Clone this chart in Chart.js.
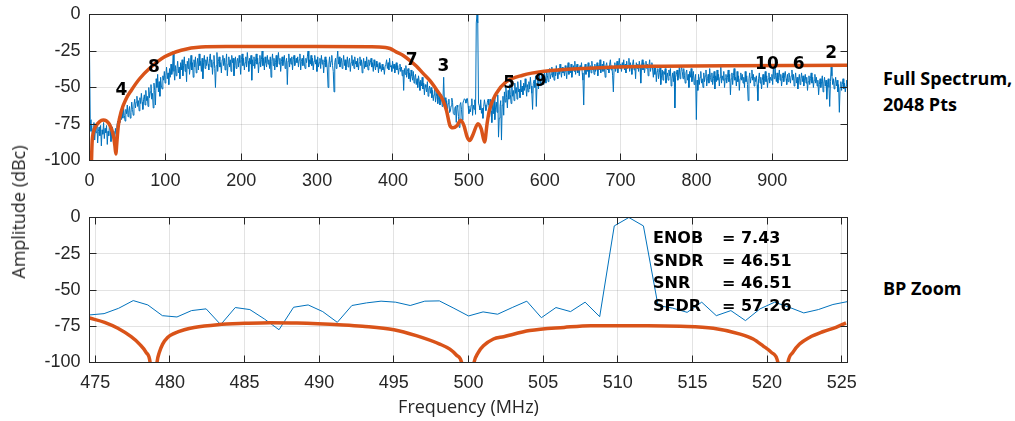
<!DOCTYPE html>
<html>
<head>
<meta charset="utf-8">
<script src="https://cdn.jsdelivr.net/npm/chart.js@4.4.1/dist/chart.umd.min.js"></script>
<style>
  html, body { margin: 0; padding: 0; background: #ffffff; }
  #page { position: relative; width: 1015px; height: 421px; overflow: hidden; font-family: 'Open Sans', sans-serif; }
  .plot { position: absolute; left: 0; width: 860px; }
  #fullPlot { top: 0; height: 200px; }
  #zoomPlot { top: 200px; height: 221px; }
  #yTitle { position: absolute; left: 18px; top: 212px; transform: translate(-50%, -50%) rotate(-90deg);
            font-size: 18px; color: #262626; white-space: nowrap; }
  .side { position: absolute; left: 883px; font-weight: 700; font-size: 18px; line-height: 26px; color: #000; white-space: nowrap; }
  #stats { position: absolute; left: 653px; top: 227px; font-family: 'DejaVu Sans', sans-serif; font-weight: bold;
           font-size: 16px; line-height: 22.5px; color: #000; white-space: nowrap; }
  #stats .name { display: inline-block; width: 69px; }
</style>
</head>
<body>
<div id="page">
  <div class="plot" id="fullPlot"><canvas id="fullCanvas" width="860" height="200"></canvas></div>
  <div class="plot" id="zoomPlot"><canvas id="zoomCanvas" width="860" height="221"></canvas></div>
  <div id="yTitle">Amplitude (dBc)</div>
  <div class="side" style="top:65px">Full Spectrum,<br>2048 Pts</div>
  <div class="side" style="top:275px">BP Zoom</div>
  <div id="stats"></div>
</div>
<script>
// FFT bin spacing: 2048-point record, 2 GS/s
const binMhz = 1000 / 1024;

// Output spectrum, one value per bin (dBc)
const spectrumDb = [
  -25,-72,-80,-76,-84,-78,-74,-86,-79,-81,-75,-88,-80,-77,-83,-76,-90,-79,-82,-74,
  -85,-78,-81,-76,-89,-80,-83,-75,-79,-87,-81,-77,-84,-80,-86,-78,-82,-76,-73,-79,
  -70,-74,-68,-72,-66,-71,-64,-69,-73,-65,-68,-62,-70,-66,-63,-71,-67,-60,-65,-69,
  -62,-58,-64,-60,-56,-63,-59,-66,-57,-61,-54,-60,-65,-58,-55,-62,-52,-59,-56,-63,
  -50,-57,-53,-48,-58,-54,-64,-47,-52,-62,-44,-50,-41,-53,-46,-56,-43,-49,-51,-42,
  -45,-39,-47,-42,-36,-44,-40,-48,-37,-43,-34,-41,-38,-25,-39,-45,-35,-42,-37,-32,
  -40,-36,-44,-33,-38,-31,-42,-35,-29,-39,-34,-46,-32,-37,-30,-41,-36,-28,-38,-33,
  -43,-31,-36,-29,-40,-34,-30,-38,-27,-35,-32,-39,-30,-44,-33,-28,-37,-31,-35,-29,
  -34,-38,-30,-27,-36,-31,-41,-33,-28,-37,-50,-35,-26,-39,-32,-29,-36,-33,-40,-31,
  -28,-35,-30,-38,-33,-27,-42,-34,-29,-36,-31,-39,-28,-33,-30,-42,-35,-29,-37,-32,
  -30,-36,-28,-33,-41,-31,-27,-35,-30,-38,-33,-29,-36,-26,-32,-39,-30,-34,-28,-45,
  -31,-35,-29,-37,-32,-27,-34,-30,-40,-33,-28,-36,-31,-25,-35,-30,-38,-29,-33,-36,
  -28,-34,-31,-37,-29,-43,-32,-27,-35,-30,-38,-33,-28,-36,-31,-26,-34,-30,-39,-32,
  -29,-35,-31,-28,-37,-33,-30,-48,-32,-27,-36,-30,-34,-29,-38,-31,-28,-35,-33,-30,
  -33,-29,-36,-31,-27,-38,-32,-30,-35,-28,-34,-37,-30,-33,-29,-25,-36,-31,-34,-28,
  -35,-30,-38,-32,-28,-34,-31,-39,-29,-36,-33,-30,-37,-28,-34,-31,-40,-33,-29,-36,
  -31,-38,-50,-34,-29,-36,-32,-28,-35,-39,-53,-33,-30,-37,-31,-25,-34,-29,-36,-32,
  -30,-37,-33,-28,-35,-31,-38,-34,-29,-36,-32,-30,-39,-33,-28,-35,-31,-37,-29,-34,
  -32,-36,-30,-38,-33,-29,-35,-31,-40,-34,-30,-37,-32,-36,-29,-34,-38,-31,-35,-33,
  -30,-36,-33,-39,-31,-35,-38,-32,-36,-34,-40,-33,-37,-35,-39,-34,-38,-36,-41,-35,
  -34,-31,-37,-33,-38,-30,-36,-35,-39,-32,-37,-34,-40,-36,-33,-38,-35,-41,-37,-34,
  -39,-36,-42,-38,-52,-37,-41,-35,-43,-39,-37,-44,-40,-46,-38,-42,-45,-39,-47,-43,
  -41,-48,-44,-50,-42,-46,-52,-45,-49,-43,-51,-47,-55,-48,-50,-53,-46,-56,-51,-49,
  -54,-50,-57,-52,-59,-55,-51,-60,-56,-53,-61,-57,-54,-62,-58,-55,-63,-59,-43,-60,
  -57,-64,-59,-66,-61,-58,
  -67.2,-66.3,-62.6,-57.3,-60.3,-67.7,-68.6,-64.2,-63.0,-73.9,
  -62.1,-63.5,-70.0,-77.4,-61.9,-60.3,-64.9,-72.3,-60.7,-58.9,
  -57.7,-58.4,-60.7,-57.7,-57.5,-62.6,-67.9,-65.1,-66.7,-62.1,
  -57.7,-69.1,-62.1,-64.9,-58.4,-68.4,-5.8,0,-5.8,-60.7,
  -62.5,-65.4,-58.4,-67.7,-64.2,-71.1,-63.0,-58.4,-61.9,-65.8,
  -63.5,-60.0,-58.0,
  -62,-70,-58,-66,-74,-61,-68,-57,-72,-64,-60,-67,-55,-84,-71,-63,-59,-86,-62,-56,-69,
  -53,-60,-50,-57,-64,-52,-58,-48,-55,-61,-49,-56,-52,-59,-47,-54,-50,-58,-46,-53,
  -51,-57,-45,-53,-49,-55,-47,-52,-44,-50,-56,-48,-53,-46,-51,-43,-49,-54,-65,-47,
  -45,-50,-42,-63,-48,-44,-51,-41,-46,-49,-40,-45,-43,-48,-39,-44,-47,-38,-42,-46,
  -40,-37,-44,-41,-36,-43,-39,-45,-38,-42,-35,-40,-44,-37,-41,-34,-39,-43,-36,-40,
  -38,-42,-35,-39,-44,-37,-33,-41,-36,-40,-34,-43,-38,-35,-39,-32,-41,-37,-34,-40,
  -36,-42,-35,-38,-33,-40,-45,-62,-37,-34,-41,-36,-39,-33,-43,-37,-35,-40,-32,-38,
  -36,-41,-34,-39,-37,-33,-42,-35,-38,-31,-40,-36,-34,-39,-32,-37,-43,-35,-33,-38,
  -36,-40,-34,-31,-38,-35,-42,-53,-37,-33,-39,-36,-32,-40,-35,-30,-37,-34,-39,-33,
  -36,-31,-38,-34,-40,-32,-37,-35,-30,-39,-33,-36,-41,-34,-31,-38,-35,-44,-33,-37,
  -34,-39,-32,-36,-47,-35,-31,-38,-33,-40,-36,-32,-37,-34,-42,-35,-31,-39,-36,-33,
  -38,-43,-36,-41,-35,-46,-39,-37,-44,-40,-36,-48,-42,-38,-45,-39,-41,-37,-47,-43,
  -40,-45,-38,-42,-37,-49,-44,-40,-46,-39,-64,-43,-41,-38,-45,-42,-36,-44,-40,-35,
  -39,-44,-37,-42,-47,-40,-38,-45,-41,-50,-39,-43,-37,-46,-42,-39,-48,-44,-41,-72,
  -45,-52,-41,-48,-43,-39,-47,-44,-50,-40,-46,-42,-38,-49,-44,-41,-47,-37,-43,-46,
  -40,-48,-44,-39,-51,-42,-46,-38,-45,-41,-49,-43,-36,-47,-42,-45,-39,-50,-44,-41,
  -47,-43,-38,-46,-41,-55,-44,-40,-48,-42,-37,-45,-43,-49,-39,-46,-42,-52,-44,-40,
  -45,-41,-47,-43,-50,-39,-46,-42,-48,-59,-44,-40,-47,-43,-38,-45,-41,-49,-43,-46,
  -42,-48,-59,-44,-40,-47,-43,-51,-45,-41,-48,-44,-39,-46,-42,-50,-44,-40,-47,-43,
  -45,-41,-48,-37,-44,-34,-42,-46,-40,-47,-43,-38,-45,-41,-49,-44,-40,-46,-42,-39,
  -44,-48,-41,-46,-40,-43,-47,-42,-38,-45,-41,-49,-44,-40,-47,-43,-51,-45,-41,-48,
  -44,-40,-46,-42,-49,-45,-41,-47,-43,-52,-46,-42,-48,-44,-40,-47,-43,-50,-45,-41,
  -47,-43,-49,-45,-55,-48,-44,-50,-46,-42,-53,-47,-43,-49,-45,-58,-48,-44,-50,-63,
  -46,-36,-42,-48,-44,-51,-47,-43,-49,-45,-53,-48,-67,-50,-46,-52,-48,-44,-51,-47,
  -53,-49,-45,-50
];

// Bins shown in the band-pass zoom
const zoomFirstBin = 486;
const zoomLastBin = 538;

// Band-pass filter response, full band
const filterFullMhz = [2.6, 3.4, 5, 9, 13, 18, 22, 26, 29, 31.5, 33.5, 34.7, 36, 38, 42, 48, 55, 66, 79, 99,
  121, 147, 180, 300, 370, 382, 396, 404, 413, 422, 431, 440, 449, 458, 465, 470.5, 475, 479, 484.6, 489,
  493.4, 497.8, 501, 505, 512, 516.3, 520.7, 524, 527, 536, 549, 571, 600, 651, 739, 999];
const filterFullDb = [-101, -88, -81, -76, -73.5, -72.3, -72.8, -75, -78.5, -83, -90, -95.5, -88, -76, -66, -58, -52, -44, -37, -29,
  -24.5, -22.3, -22, -22, -22.1, -22.2, -23.3, -25.6, -27.9, -31.4, -35.5, -40.5, -45.5, -52, -57.7, -65.7, -76, -77.6, -76, -72.5,
  -76, -84, -86.3, -82.8, -74.8, -78.3, -87.4, -74.8, -65.7, -54.2, -46.2, -41.6, -38.9, -37, -35.5, -34.8];

// Band-pass filter response around the carrier (nulls near 478.9, 500 and 521.1 MHz)
const filterZoomMhz = [474.6, 475.62, 476.51, 477.4, 477.96, 478.4, 478.67, 478.9, 479.13, 479.29, 479.51, 479.84,
  480.29, 480.96, 481.62, 483.2, 485, 486.7, 488.5, 491.6, 492.9, 495, 496.5, 498.07, 498.75, 499.2, 499.54,
  499.95, 500.37, 500.66, 501.0, 501.67, 502.35, 504.1, 506.4, 508.2, 509.7, 512, 514.2, 516.4, 518.2, 519.07,
  519.73, 520.29, 520.73, 521.07, 521.4, 521.73, 522.18, 522.84, 523.73, 524.62, 525.29];
const filterZoomDb = [-69.3, -72.3, -76.4, -82.2, -87.3, -93, -100, -130, -100, -93, -87.3, -82.7,
  -79.9, -77.4, -75.8, -73.9, -73, -72.5, -72.7, -74.1, -75, -77.4, -81.5, -87.3, -90.8, -95, -100,
  -130, -100, -93, -88.5, -83.8, -82.2, -78, -75.8, -74.6, -74.6, -74.6, -75, -76.4, -80.4, -83.8,
  -88.5, -93, -100, -130, -100, -93, -87.3, -82.7, -78.8, -75.8, -72.7];

// Axis tick values
const fullTicksMhz = [0, 100, 200, 300, 400, 500, 600, 700, 800, 900];
const zoomTicksMhz = [475, 480, 485, 490, 495, 500, 505, 510, 515, 520, 525];
const dbTicks = [-100, -75, -50, -25, 0];

// Harmonic markers on the full spectrum
const harmonicNames = ['4', '8', '7', '3', '5', '9', '10', '6', '2'];
const harmonicMhz = [42.2, 84.8, 424.6, 466.3, 553, 594.7, 892.8, 934.5, 977.6];
const harmonicTagDb = [-51.8, -36.2, -31.7, -35.8, -47.2, -46.1, -34.6, -34.6, -26.6];

// Converter figures of merit
const statNames = ['ENOB', 'SNDR', 'SNR', 'SFDR'];
const statValues = ['7.43', '46.51', '46.51', '57.26'];

const lineBlue = '#0072BD';
const lineOrange = '#D95319';
const inkColor = '#262626';

document.getElementById('stats').innerHTML = statNames
  .map((n, i) => '<div><span class="name">' + n + '</span>= ' + statValues[i] + '</div>')
  .join('');

const spectrumPoints = spectrumDb.map((v, i) => ({ x: i * binMhz, y: v }));
const zoomPoints = spectrumPoints.slice(zoomFirstBin, zoomLastBin + 1);
const filterFullPoints = filterFullMhz.map((f, i) => ({ x: f, y: filterFullDb[i] }));
const filterZoomPoints = filterZoomMhz.map((f, i) => ({ x: f, y: filterZoomDb[i] }));

const tickFont = { family: "'Liberation Sans', Arial, sans-serif", size: 18 };

function crisp(p) { return Math.round(p - 0.5) + 0.5; }

// Boxed axes with inward tick marks on all four sides
const axesFrame = {
  id: 'axesFrame',
  afterDatasetsDraw(chart) {
    const { ctx, chartArea: a, scales: { x, y } } = chart;
    const len = 7;
    ctx.save();
    ctx.strokeStyle = inkColor;
    ctx.lineWidth = 1;
    ctx.beginPath();
    x.ticks.forEach(t => {
      const px = crisp(x.getPixelForValue(t.value));
      ctx.moveTo(px, a.bottom); ctx.lineTo(px, a.bottom - len);
      ctx.moveTo(px, a.top); ctx.lineTo(px, a.top + len);
    });
    y.ticks.forEach(t => {
      const py = crisp(y.getPixelForValue(t.value));
      ctx.moveTo(a.left, py); ctx.lineTo(a.left + len, py);
      ctx.moveTo(a.right, py); ctx.lineTo(a.right - len, py);
    });
    ctx.stroke();
    ctx.strokeRect(a.left, a.top, a.right - a.left, a.bottom - a.top);
    ctx.restore();
  }
};

// Harmonic order numbers placed at their folded frequencies
const harmonicTags = {
  id: 'harmonicTags',
  afterDatasetsDraw(chart) {
    const { ctx, scales: { x, y } } = chart;
    ctx.save();
    ctx.font = "bold 17px 'DejaVu Sans', sans-serif";
    ctx.fillStyle = '#000';
    ctx.textAlign = 'center';
    ctx.textBaseline = 'middle';
    harmonicNames.forEach((n, i) => {
      ctx.fillText(n, x.getPixelForValue(harmonicMhz[i]), y.getPixelForValue(harmonicTagDb[i]));
    });
    ctx.restore();
  }
};

function useTicks(values) {
  return s => { s.ticks = values.map(v => ({ value: v })); };
}

function yAxis() {
  return {
    min: -100, max: 0,
    afterBuildTicks: useTicks(dbTicks),
    afterFit: s => { s.width = 89.5; s.paddingTop = 0; s.paddingBottom = 0; },
    ticks: { font: tickFont, color: inkColor, padding: 9 },
    grid: { color: 'rgba(0,0,0,0.11)', drawTicks: false },
    border: { display: false }
  };
}

function xAxis(min, max, tickValues, height, title) {
  return {
    type: 'linear', min, max,
    afterBuildTicks: useTicks(tickValues),
    afterFit: s => { s.height = height; s.paddingLeft = 0; s.paddingRight = 0; },
    ticks: { autoSkip: false, maxRotation: 0, font: tickFont, color: inkColor, padding: 10 },
    grid: { color: 'rgba(0,0,0,0.11)', drawTicks: false },
    border: { display: false },
    title: title
      ? { display: true, text: title, color: inkColor, font: { family: "'Open Sans', sans-serif", size: 18 },
          padding: { top: 0, bottom: 2 } }
      : { display: false }
  };
}

function baseOptions(xScale, padTop) {
  return {
    responsive: false,
    animation: false,
    events: [],
    layout: { padding: { left: 0, right: 12.5, top: padTop, bottom: 0 } },
    plugins: { legend: { display: false }, tooltip: { enabled: false } },
    elements: { point: { radius: 0 } },
    scales: { x: xScale, y: yAxis() }
  };
}

new Chart(document.getElementById('fullCanvas'), {
  type: 'line',
  data: {
    datasets: [
      { data: filterFullPoints, borderColor: lineOrange, borderWidth: 3.5, cubicInterpolationMode: 'monotone',
        borderJoinStyle: 'round', clip: 0, order: 0 },
      { data: spectrumPoints, borderColor: lineBlue, borderWidth: 1, clip: 0, order: 1 }
    ]
  },
  options: baseOptions(xAxis(0, (spectrumDb.length - 1) * binMhz, fullTicksMhz, 39.5, null), 14.5),
  plugins: [axesFrame, harmonicTags]
});

new Chart(document.getElementById('zoomCanvas'), {
  type: 'line',
  data: {
    datasets: [
      { data: filterZoomPoints, borderColor: lineOrange, borderWidth: 3.5, cubicInterpolationMode: 'monotone',
        borderJoinStyle: 'round', clip: 0, order: 0 },
      { data: zoomPoints, borderColor: lineBlue, borderWidth: 1, clip: 0, order: 1 }
    ]
  },
  options: baseOptions(xAxis(zoomFirstBin * binMhz, zoomLastBin * binMhz, zoomTicksMhz, 58.5, 'Frequency (MHz)'), 17.5),
  plugins: [axesFrame]
});
</script>
</body>
</html>
